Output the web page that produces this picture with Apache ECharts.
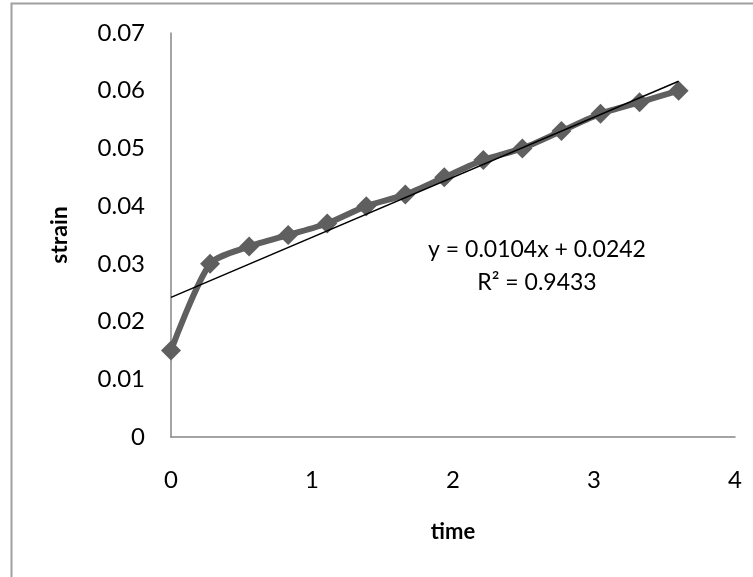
<!DOCTYPE html>
<html lang="en">
<head>
    <meta charset="UTF-8">
    <title>strain vs time</title>
    <script src="https://cdn.jsdelivr.net/npm/echarts@6/dist/echarts.min.js"></script>
    <style>
        html, body { margin: 0; padding: 0; background: #fff; }
        #graph { width: 753px; height: 577px; }
    </style>
</head>
<body>
<div id="graph"></div>
<script>
    // measured points (time, strain)
    var time = [0, 0.277, 0.554, 0.831, 1.108, 1.385, 1.662, 1.938, 2.215, 2.492, 2.769, 3.046, 3.323, 3.6];
    var strain = [0.015, 0.030, 0.033, 0.035, 0.037, 0.040, 0.042, 0.045, 0.048, 0.050, 0.053, 0.056, 0.058, 0.060];
    // linear trendline end points
    var trendX = [0, 3.6];
    var trendY = [0.0242, 0.06164];
    var xTicks = [0, 1, 2, 3, 4];
    var yTicks = [0, 0.01, 0.02, 0.03, 0.04, 0.05, 0.06, 0.07];
    var equation = ['y = 0.0104x + 0.0242', 'R\u00b2 = 0.9433'];

    var font = 'Lato, "Open Sans", sans-serif';
    var myChart = echarts.init(document.getElementById('graph'));

    var data = [];
    for (var i = 0; i < time.length; i++) {
        data[i] = [time[i], strain[i]];
    }
    var trend = [];
    for (var j = 0; j < trendX.length; j++) {
        trend[j] = [trendX[j], trendY[j]];
    }

    var option = {
        animation: false,
        textStyle: { fontFamily: font },
        grid: { left: 171, right: 18, top: 33, bottom: 140 },
        xAxis: {
            type: 'value',
            min: xTicks[0],
            max: xTicks[xTicks.length - 1],
            interval: 1,
            name: 'time',
            nameLocation: 'middle',
            nameGap: 84,
            nameTextStyle: { fontFamily: font, fontSize: 22, fontWeight: 'bold', color: '#000' },
            axisLine: { lineStyle: { color: '#868686', width: 1.5 } },
            axisTick: { show: false },
            splitLine: { show: false },
            axisLabel: { margin: 31, fontSize: 24, color: '#000', fontFamily: font }
        },
        yAxis: {
            type: 'value',
            min: yTicks[0],
            max: yTicks[yTicks.length - 1],
            interval: 0.01,
            name: 'strain',
            nameLocation: 'middle',
            nameGap: 100,
            nameRotate: 90,
            nameTextStyle: { fontFamily: font, fontSize: 23, fontWeight: 'bold', color: '#000' },
            axisLine: { show: true, lineStyle: { color: '#868686', width: 1.5 } },
            axisTick: { show: false },
            splitLine: { show: false },
            axisLabel: {
                margin: 26, fontSize: 24, color: '#000', fontFamily: font,
                formatter: function (v) { return v === 0 ? '0' : v.toFixed(2); }
            }
        },
        series: [
            {
                name: 'strain',
                type: 'line',
                data: data,
                smooth: 0.25,
                symbol: 'diamond',
                symbolSize: 20,
                lineStyle: { color: '#5f5f5f', width: 6 },
                itemStyle: { color: '#5f5f5f' },
                z: 2
            },
            {
                name: 'trend',
                type: 'line',
                data: trend,
                symbol: 'none',
                lineStyle: { color: '#000', width: 1.5 },
                z: 3
            }
        ],
        graphic: [
            {
                type: 'rect',
                shape: { x: 11.5, y: 3.5, width: 900, height: 700 },
                style: { fill: 'none', stroke: '#a0a0a0', lineWidth: 2 },
                silent: true
            },
            {
                type: 'text',
                x: 537, y: 250,
                style: {
                    text: equation[0], fontFamily: font, fontSize: 23, fill: '#000',
                    align: 'center', verticalAlign: 'middle'
                }
            },
            {
                type: 'text',
                x: 537, y: 283,
                style: {
                    text: equation[1], fontFamily: font, fontSize: 23, fill: '#000',
                    align: 'center', verticalAlign: 'middle'
                }
            }
        ]
    };

    myChart.setOption(option);
</script>
</body>
</html>
